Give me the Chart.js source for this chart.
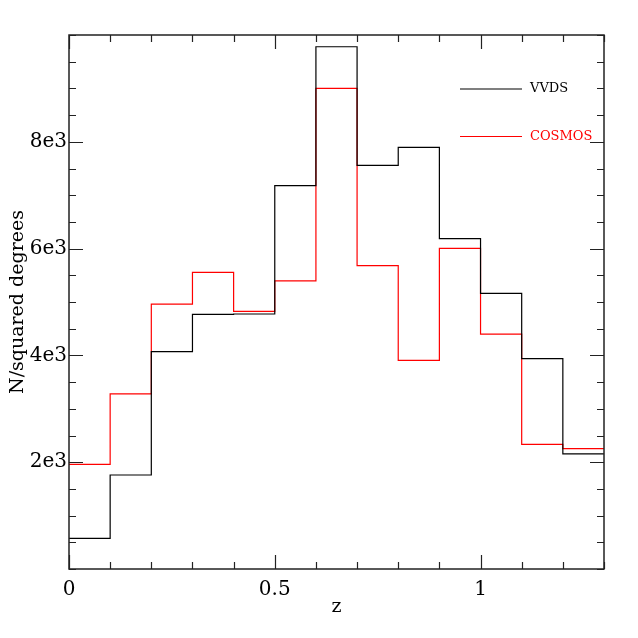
<!DOCTYPE html>
<html>
<head>
<meta charset="utf-8">
<script src="https://cdn.jsdelivr.net/npm/chart.js@4.4.1/dist/chart.umd.min.js"></script>
<style>
  html, body { margin: 0; padding: 0; background: #fff; }
  #wrap { width: 638px; height: 638px; }
</style>
</head>
<body>
<div id="wrap"><canvas id="myChart" width="638" height="638"></canvas></div>
<script>
// bin lower edges in z (width 0.1), last edge closes the histogram
const zBins = [0, 0.1, 0.2, 0.3, 0.4, 0.5, 0.6, 0.7, 0.8, 0.9, 1.0, 1.1, 1.2];
const zEnd = 1.3;
const vvds = [575, 1760, 4070, 4770, 4775, 7180, 9780, 7560, 7895, 6185, 5160, 3940, 2155];
const cosmos = [1960, 3280, 4960, 5555, 4825, 5395, 9000, 5680, 3905, 6005, 4400, 2335, 2255];
const xTickLabels = ["0", "0.5", "1"];
const yTickLabels = ["2e3", "4e3", "6e3", "8e3"];
const seriesNames = ["VVDS", "COSMOS"];
const seriesColors = ["#000000", "#ff0000"];

const serif = "'DejaVu Serif', serif";

// step points: one per bin + a closing point at the last edge
const toSteps = (vals) => {
  let pts = zBins.map((z, i) => ({ x: z, y: vals[i] }));
  pts.push({ x: zEnd, y: vals[vals.length - 1] });
  return pts;
};

const fmtX = (v) => {
  let s = String(Math.round(v * 2) / 2);
  return xTickLabels.includes(s) && Math.abs(v * 2 - Math.round(v * 2)) < 1e-6 ? s : "";
};
const fmtY = (v) => {
  let s = Math.round(v / 1000) + "e3";
  return v % 2000 === 0 && yTickLabels.includes(s) ? s : "";
};

// frame + inward ticks on all four sides, legend in the corner
const framePlugin = {
  id: "frame",
  afterDraw(chart) {
    const ctx = chart.ctx;
    const { left, right, top, bottom } = chart.chartArea;
    const xs = chart.scales.x, ys = chart.scales.y;
    ctx.save();
    ctx.strokeStyle = "#222";
    ctx.lineWidth = 1.5;
    ctx.strokeRect(left, top, right - left, bottom - top);
    ctx.lineWidth = 1.2;
    ctx.beginPath();
    xs.ticks.forEach((t) => {
      let px = Math.round(xs.getPixelForValue(t.value)) + 0.5;
      let len = fmtX(t.value) ? 14 : 7;
      ctx.moveTo(px, bottom); ctx.lineTo(px, bottom - len);
      ctx.moveTo(px, top); ctx.lineTo(px, top + len);
    });
    ys.ticks.forEach((t) => {
      let py = Math.round(ys.getPixelForValue(t.value)) + 0.5;
      let len = fmtY(t.value) ? 14 : 7;
      ctx.moveTo(left, py); ctx.lineTo(left + len, py);
      ctx.moveTo(right, py); ctx.lineTo(right - len, py);
    });
    ctx.stroke();

    // legend
    ctx.font = "13px " + serif;
    ctx.textBaseline = "middle";
    ctx.lineWidth = 1.2;
    chart.data.datasets.forEach((ds, i) => {
      let ly = 89 + i * 47.5;
      ctx.strokeStyle = ds.borderColor;
      ctx.beginPath();
      ctx.moveTo(460, ly); ctx.lineTo(522, ly);
      ctx.stroke();
      ctx.fillStyle = ds.borderColor;
      ctx.fillText(ds.label, 530, ly);
    });
    ctx.restore();
  },
};

var ctx = document.getElementById("myChart");
var myChart = new Chart(ctx, {
  type: "line",
  data: {
    datasets: [
      {
        label: seriesNames[0],
        data: toSteps(vvds),
        borderColor: seriesColors[0],
        borderWidth: 1.2,
        stepped: "before",
        pointRadius: 0,
        fill: false,
      },
      {
        label: seriesNames[1],
        data: toSteps(cosmos),
        borderColor: seriesColors[1],
        borderWidth: 1.2,
        stepped: "before",
        pointRadius: 0,
        fill: false,
      },
    ],
  },
  options: {
    responsive: false,
    animation: false,
    layout: { padding: { top: 35, right: 34, left: 0, bottom: 0 } },
    plugins: {
      legend: { display: false },
      tooltip: { enabled: false },
    },
    scales: {
      x: {
        type: "linear",
        min: 0,
        max: zEnd,
        grid: { display: false, drawTicks: false },
        border: { display: false },
        ticks: {
          stepSize: 0.1,
          autoSkip: false,
          maxRotation: 0,
          padding: 9,
          color: "#000",
          font: { family: serif, size: 20 },
          callback: (v) => fmtX(v),
        },
        title: {
          display: true,
          text: "z",
          color: "#000",
          font: { family: serif, size: 19 },
          padding: { top: 0, bottom: 20 },
        },
        afterFit: (s) => { s.height = 69; },
      },
      y: {
        min: 0,
        max: 10000,
        grid: { display: false, drawTicks: false },
        border: { display: false },
        ticks: {
          stepSize: 500,
          autoSkip: false,
          padding: 2,
          color: "#000",
          font: { family: serif, size: 20 },
          callback: (v) => fmtY(v),
        },
        title: {
          display: true,
          text: "N/squared degrees",
          color: "#000",
          font: { family: serif, size: 19 },
          padding: { top: 7, bottom: 0 },
        },
        afterFit: (s) => { s.width = 69; },
      },
    },
  },
  plugins: [framePlugin],
});
</script>
</body>
</html>
